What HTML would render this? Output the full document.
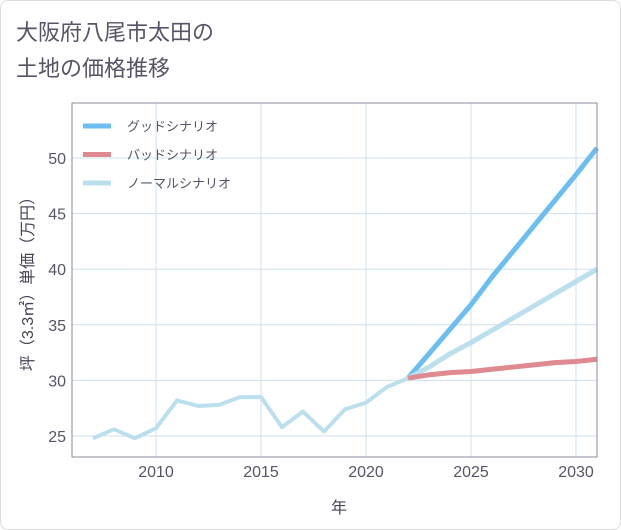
<!DOCTYPE html>
<html><head><meta charset="utf-8"><style>
body{margin:0;background:#fff;font-family:"Liberation Sans","Noto Sans CJK JP",sans-serif;}
#wrap{position:relative;width:619px;height:528px;border:1px solid #ddd;border-radius:8px;overflow:hidden;background:#fff}
</style></head><body>
<div id="wrap">
<svg id="c" width="621" height="530" style="position:absolute;left:-1px;top:-1px">
<text x="16" y="40" font-size="22" fill="#556">大阪府八尾市太田の</text>
<text x="16" y="76" font-size="22" fill="#556">土地の価格推移</text>
<g id="grid"></g><g id="series"></g>
<rect x="72" y="103" width="525" height="354" fill="none" stroke="#889" stroke-width="1"/>
<g id="ticks"></g>
<text x="339" y="513" font-size="16" fill="#445" text-anchor="middle">年</text>
<text transform="translate(33,280) rotate(-90)" font-size="16" fill="#445" text-anchor="middle">坪（3.3㎡）単価（万円）</text>
<g id="legend"></g>
</svg>
</div>
<script>
const years=[2007,2008,2009,2010,2011,2012,2013,2014,2015,2016,2017,2018,2019,2020,2021,2022];
const history=[24.8,25.6,24.8,25.7,28.2,27.7,27.8,28.5,28.5,25.8,27.2,25.4,27.4,28.0,29.4,30.2];
const futureYears=[2022,2023,2024,2025,2026,2027,2028,2029,2030,2031];
const goodValues=[30.2,32.4,34.6,36.8,39.3,41.6,43.9,46.2,48.5,50.9];
const badValues=[30.2,30.5,30.7,30.8,31.0,31.2,31.4,31.6,31.7,31.9];
const normalValues=[30.2,31.2,32.4,33.4,34.5,35.6,36.7,37.8,38.9,40.0];
const xTicks=[2010,2015,2020,2025,2030];
const yTicks=[25,30,35,40,45,50];
const X=v=>156+(v-2010)*21;
const Y=v=>436-(v-25)*(278/25);
const NS="http://www.w3.org/2000/svg";
function mk(p,t,a){const e=document.createElementNS(NS,t);for(const k in a)e.setAttribute(k,a[k]);p.appendChild(e);return e;}
const grid=document.getElementById('grid'),ticks=document.getElementById('ticks');
xTicks.forEach(t=>{
 const l=mk(grid,'line',{x1:X(t),x2:X(t),y1:103,y2:457,stroke:'#cfe0ee','stroke-width':1});
 
 
 const tx=mk(ticks,'text',{x:X(t),y:477,'font-size':16,fill:'#556','text-anchor':'middle'});tx.textContent=t;
 
 
});
yTicks.forEach(t=>{
 const l=mk(grid,'line',{x1:72,x2:597,y1:Y(t),y2:Y(t),stroke:'#cfe0ee','stroke-width':1});
 
 
 const tx=mk(ticks,'text',{x:66,y:Y(t)+6,'font-size':16,fill:'#556','text-anchor':'end'});tx.textContent=t;
 
 
});
const S=document.getElementById('series');
function line(xs,vs,color,w,name){
 const p=mk(S,'polyline',{points:xs.map((x,i)=>X(x)+','+Y(vs[i])).join(' '),fill:'none',stroke:color,'stroke-width':w,'stroke-linejoin':'round'});
 
 
}
line(futureYears,goodValues,'#6bbdf2',5,'good-scenario-line');
line(futureYears,normalValues,'#bcdfee',5,'normal-scenario-line');
line(futureYears,badValues,'#de8a90',5,'bad-scenario-line');
line(years,history,'#bcdfee',4,'history-line');
const L=document.getElementById('legend');
[['グッドシナリオ','#6bbdf2','legend-good'],['バッドシナリオ','#de8a90','legend-bad'],['ノーマルシナリオ','#bcdfee','legend-normal']].forEach((d,i)=>{
 const y=126+i*28.5;
 const g=mk(L,'g',{});
 
 
 mk(g,'line',{x1:83,x2:111,y1:y,y2:y,stroke:d[1],'stroke-width':5});
 const t=mk(g,'text',{x:127,y:y+5,'font-size':13,fill:'#556'});t.textContent=d[0];
});
</script>
</body></html>
